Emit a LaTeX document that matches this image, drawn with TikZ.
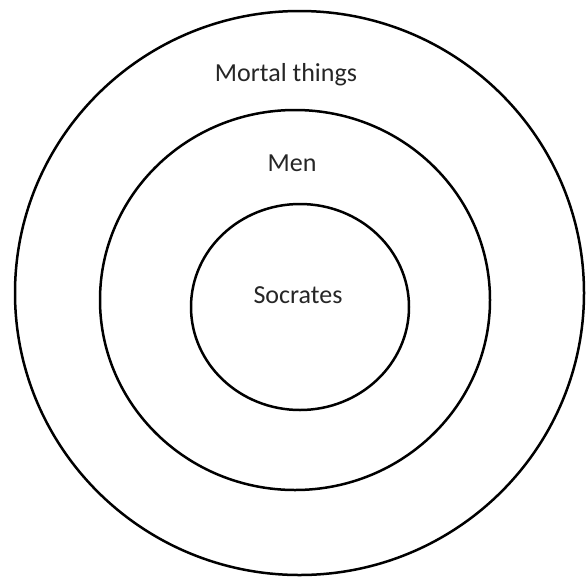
\documentclass[tikz,border=0pt]{standalone}
\usepackage{fontspec}
\setmainfont{Carlito}
\usetikzlibrary{shapes.geometric}
\begin{document}
\begin{tikzpicture}[x=1pt,y=-1pt,
  ring/.style={draw=black,line width=2.5pt,ellipse,inner sep=0pt},
  lbl/.style={font=\fontsize{26}{29}\selectfont,text=black!85,inner sep=0pt}]
\useasboundingbox[fill=white] (0,0) rectangle (586,579);
\node[ring,minimum width=569pt,minimum height=564pt] (outer) at (299.5,293) {};
\node[ring,minimum width=390pt,minimum height=380pt] (middle) at (295,300) {};
\node[ring,minimum width=218pt,minimum height=206pt] (inner) at (300,307) {};
\node[lbl] (mortal) at (286,75) {Mortal things};
\node[lbl] (men) at (292,163) {Men};
\node[lbl] (socrates) at (298,295) {Socrates};
\end{tikzpicture}
\end{document}
